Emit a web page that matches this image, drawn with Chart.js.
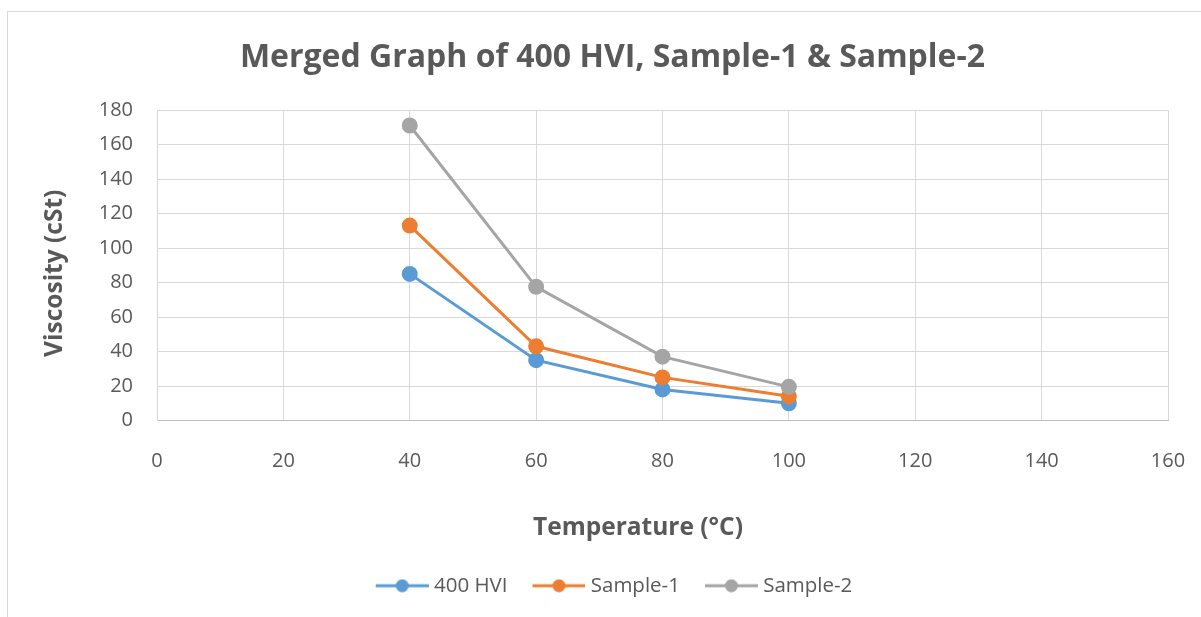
<!DOCTYPE html>
<html><head><meta charset="utf-8">
<script src="https://cdn.jsdelivr.net/npm/chart.js@4/dist/chart.umd.min.js"></script>
<style>
html,body{margin:0;padding:0;background:#fff;overflow:hidden}
#frame{position:absolute;left:7px;top:11px;width:1200px;height:620px;border:1.5px solid #d9d9d9;box-sizing:border-box}
#wrap{position:absolute;left:0;top:0;width:1201px;height:617px}
</style></head><body>
<div id="frame"></div>
<div id="wrap"><canvas id="c" width="1201" height="617"></canvas></div>
<script>
const temperatures = [40, 60, 80, 100];
const hvi400 = [85, 35, 18, 10];
const sample1 = [113, 43, 25, 14];
const sample2 = [171, 77.5, 37, 19.5];
const seriesNames = ['400 HVI', 'Sample-1', 'Sample-2'];
const seriesColors = ['#5B9BD5', '#ED7D31', '#A5A5A5'];
const chartTitle = 'Merged Graph of 400 HVI, Sample-1 & Sample-2';
const xTitle = 'Temperature (°C)';
const yTitle = 'Viscosity (cSt)';

const FONT = '"Open Sans", "Liberation Sans", sans-serif';
const TXT = '#595959';

function legendIcon(color) {
  const c = document.createElement('canvas');
  c.width = 73; c.height = 14;
  const g = c.getContext('2d');
  g.strokeStyle = color; g.lineWidth = 3;
  g.beginPath(); g.moveTo(20, 7); g.lineTo(73, 7); g.stroke();
  g.fillStyle = color;
  g.beginPath(); g.arc(46.5, 7, 6.5, 0, Math.PI * 2); g.fill();
  return c;
}

const allSeries = [hvi400, sample1, sample2];
const datasets = allSeries.map((vals, i) => ({
  label: seriesNames[i],
  data: temperatures.map((t, j) => ({x: t, y: vals[j]})),
  borderColor: seriesColors[i],
  backgroundColor: seriesColors[i],
  pointBackgroundColor: seriesColors[i],
  pointBorderColor: seriesColors[i],
  borderWidth: 3,
  pointRadius: 6.5,
  pointHoverRadius: 6.5,
  pointStyle: 'circle',
  tension: 0,
  order: 3 - i,
  icon: legendIcon(seriesColors[i])
}));

const axisTitles = {
  id: 'axisTitles',
  afterLayout(chart) {
    if (chart.legend) { chart.legend.left -= 6; chart.legend.right -= 6; }
  },
  afterDraw(chart) {
    const {ctx, scales: {x, y}} = chart;
    ctx.save();
    ctx.fillStyle = TXT;
    ctx.font = 'bold 24.5px ' + FONT;
    ctx.textAlign = 'center';
    ctx.textBaseline = 'middle';
    ctx.fillText(xTitle, (x.left + x.right) / 2 - 24.5, x.bottom - 37);
    ctx.translate(y.left - 2, (y.top + y.bottom) / 2 + 8);
    ctx.rotate(-Math.PI / 2);
    ctx.fillText(yTitle, 0, 0);
    ctx.restore();
  }
};

new Chart(document.getElementById('c'), {
  type: 'line',
  data: { datasets },
  plugins: [axisTitles],
  options: {
    responsive: false,
    animation: false,
    layout: { padding: { left: 57, right: 33, top: 0, bottom: 11 } },
    plugins: {
      title: {
        display: true, text: chartTitle, color: TXT,
        font: { family: FONT, size: 32, weight: 'bold', lineHeight: 1.2 },
        padding: { top: 38.8, bottom: 32.8 }
      },
      legend: {
        position: 'bottom',
        labels: {
          usePointStyle: true,
          pointStyleWidth: 63,
          padding: 10,
          color: TXT,
          font: { family: FONT, size: 20.5 },
          generateLabels: (chart) => chart.data.datasets.map((ds, i) => ({
            text: ds.label, fillStyle: ds.borderColor, strokeStyle: ds.borderColor,
            pointStyle: ds.icon, lineWidth: 0, hidden: false, datasetIndex: i, fontColor: TXT
          }))
        }
      },
      tooltip: { enabled: false }
    },
    scales: {
      x: {
        type: 'linear', min: 0, max: 160,
        ticks: { stepSize: 20, color: TXT, font: { family: FONT, size: 20 }, padding: 29 },
        grid: { color: '#d9d9d9', drawTicks: false, tickLength: 0 },
        border: { color: '#bfbfbf', width: 1 },
        title: { display: false, text: xTitle },
        afterFit: (s) => { s.height = 145; s.paddingLeft = 0; s.paddingRight = 0; }
      },
      y: {
        type: 'linear', min: 0, max: 180,
        ticks: { stepSize: 20, color: TXT, font: { family: FONT, size: 20 }, padding: 24 },
        grid: { color: '#d9d9d9', drawTicks: false, tickLength: 0 },
        border: { color: '#d9d9d9', width: 1 },
        title: { display: false, text: yTitle },
        afterFit: (s) => { s.width = 100; }
      }
    }
  }
});
</script>
</body></html>
